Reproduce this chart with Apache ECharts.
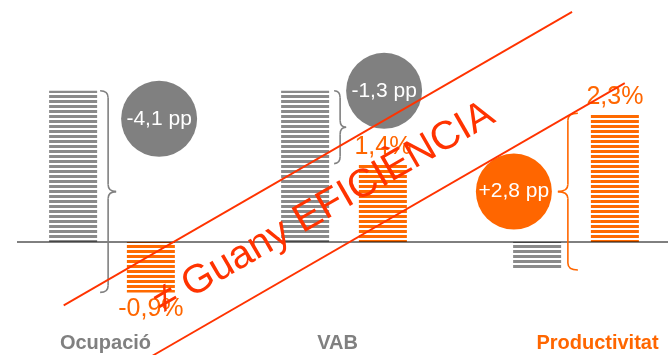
<!DOCTYPE html>
<html>
<head>
<meta charset="utf-8">
<script src="https://cdn.jsdelivr.net/npm/echarts@6/dist/echarts.min.js"></script>
<style>
  html, body { margin: 0; padding: 0; background: #ffffff; }
  #chart { width: 668px; height: 355px; }
</style>
</head>
<body>
<div id="chart"></div>
<script>
// Categories and the two compared series (percent change)
const categories = ['Ocupació', 'VAB', 'Productivitat'];
const greyValues = [2.7, 2.7, -0.5];
const orangeValues = [-0.9, 1.4, 2.3];

// Gap annotations (percentage points) shown in the bubbles
const gapLabels = ['-4,1 pp', '-1,3 pp', '+2,8 pp'];
const stampText = '≠ Guany EFICIÈNCIA';

const GREY = '#808080';
const ORANGE = '#ff6600';
const STAMP = '#ff3300';
const BAR_W = 48;
const BAR_GAP = 0.62;

// Horizontal stripe fill used by both bar series
function stripes(color) {
  const c = document.createElement('canvas');
  c.width = 4; c.height = 5;
  const g = c.getContext('2d');
  g.fillStyle = '#ffffff';
  g.fillRect(0, 0, 4, 5);
  g.fillStyle = color;
  g.fillRect(0, 0, 4, 3);
  return c;
}

const fmtPct = v => v.toFixed(1).replace('.', ',') + '%';

const labelShift = [
  { color: GREY, padding: [0, 13, 0, 0] },
  { color: GREY, padding: [0, 13, 0, 0] },
  { color: ORANGE, padding: [0, 0, 0, 43] }
];

const chart = echarts.init(document.getElementById('chart'), null, { renderer: 'canvas' });

chart.setOption({
  animation: false,
  backgroundColor: '#ffffff',
  grid: { left: -4, right: -24, top: 18, bottom: 29, outerBoundsMode: 'none', containLabel: false },
  xAxis: {
    type: 'category',
    data: categories.map((c, i) => ({ value: c, textStyle: labelShift[i] })),
    axisLine: { show: false, onZero: false },
    axisTick: { show: false },
    axisLabel: {
      margin: 7,
      fontFamily: 'Liberation Sans',
      fontWeight: 'bold',
      fontSize: 20,
      color: GREY
    },
    splitLine: { show: false }
  },
  yAxis: {
    type: 'value',
    min: -1.5,
    max: 4,
    show: false,
    splitLine: { show: false }
  },
  series: [
    {
      type: 'bar',
      name: 'grey',
      data: greyValues,
      barWidth: BAR_W,
      barGap: (BAR_GAP * 100) + '%',
      itemStyle: { color: { image: stripes('#8a8a8a'), repeat: 'repeat' } }
    },
    {
      type: 'bar',
      name: 'orange',
      data: orangeValues.map(v => ({
        value: v,
        label: { position: v < 0 ? 'bottom' : 'top' }
      })),
      barWidth: BAR_W,
      itemStyle: { color: { image: stripes('#ff6a00'), repeat: 'repeat' } },
      label: {
        show: true,
        distance: 4,
        formatter: p => fmtPct(p.value),
        fontFamily: 'Liberation Sans',
        fontSize: 25,
        color: ORANGE
      }
    }
  ]
});

// Annotation layer: zero line, braces, gap bubbles and the diagonal stamp
const yPx = v => chart.convertToPixel({ yAxisIndex: 0 }, v);
const xPx = i => chart.convertToPixel({ xAxisIndex: 0 }, categories[i]);
const half = BAR_W * (1 + BAR_GAP) / 2;
const greyRight = i => xPx(i) - half + BAR_W / 2;
const orangeLeft = i => xPx(i) + half - BAR_W / 2;

// Curly brace between yTop and yBot built from curves and lines; dir = 1 points right
function braceGroup(x0, yTop, yBot, dir, depth, color) {
  const x1 = x0 + dir * depth;
  const tip = x0 + dir * depth * 2;
  const ym = (yTop + yBot) / 2;
  const r = 7;
  const style = { stroke: color, lineWidth: 1.6, fill: null };
  const curve = (ax, ay, cx, cy, bx, by) => ({
    type: 'bezierCurve',
    z: 6,
    shape: { x1: ax, y1: ay, cpx1: cx, cpy1: cy, x2: bx, y2: by },
    style: style
  });
  const seg = (ax, ay, bx, by) => ({
    type: 'line',
    z: 6,
    shape: { x1: ax, y1: ay, x2: bx, y2: by },
    style: style
  });
  return {
    type: 'group',
    children: [
      curve(x0, yTop, x1, yTop, x1, yTop + r),
      seg(x1, yTop + r, x1, ym - r),
      curve(x1, ym - r, x1, ym, tip, ym),
      curve(tip, ym, x1, ym, x1, ym + r),
      seg(x1, ym + r, x1, yBot - r),
      curve(x1, yBot - r, x1, yBot, x0, yBot)
    ]
  };
}

const zeroY = yPx(0);
const graphics = [];

graphics.push({
  type: 'line',
  z: 5,
  shape: { x1: 17, y1: zeroY, x2: 668, y2: zeroY },
  style: { stroke: '#000000', lineWidth: 1 }
});

const braces = [
  { x0: greyRight(0) + 3, top: greyValues[0], bot: orangeValues[0], dir: 1, depth: 8, color: GREY },
  { x0: greyRight(1) + 5, top: greyValues[1], bot: orangeValues[1], dir: 1, depth: 6, color: GREY },
  { x0: orangeLeft(2) - 13, top: orangeValues[2], bot: greyValues[2], dir: -1, depth: 10, color: ORANGE }
];
braces.forEach(b => {
  graphics.push(braceGroup(b.x0, yPx(b.top), yPx(b.bot), b.dir, b.depth, b.color));
});

const bubbles = [
  { cx: greyRight(0) + 62, level: 2.2, color: GREY },
  { cx: greyRight(1) + 55, level: 2.7, color: GREY },
  { cx: orangeLeft(2) - 77, level: 0.9, color: ORANGE }
];
bubbles.forEach((b, i) => {
  const cy = yPx(b.level);
  graphics.push({
    type: 'circle',
    z: 7,
    shape: { cx: b.cx, cy: cy, r: 38 },
    style: { fill: b.color }
  });
  graphics.push({
    type: 'text',
    z: 8,
    x: b.cx,
    y: cy,
    style: {
      text: gapLabels[i],
      fill: '#ffffff',
      font: '21px "Liberation Sans"',
      align: 'center',
      verticalAlign: 'middle'
    }
  });
});

// Diagonal stamp across the chart, drawn above everything else
graphics.push({
  type: 'group',
  x: 336,
  y: 199,
  rotation: Math.PI / 6,
  children: [
    { type: 'line', z: 20, shape: { x1: -289, y1: -44, x2: 298, y2: -44 }, style: { stroke: STAMP, lineWidth: 1.8 } },
    { type: 'line', z: 20, shape: { x1: -300, y1: 44, x2: 308, y2: 44 }, style: { stroke: STAMP, lineWidth: 1.8 } },
    {
      type: 'text',
      z: 21,
      x: -15,
      y: 2,
      style: {
        text: stampText,
        fill: STAMP,
        font: '40px "Liberation Sans"',
        align: 'center',
        verticalAlign: 'middle'
      }
    }
  ]
});

chart.setOption({ graphic: graphics });
</script>
</body>
</html>
